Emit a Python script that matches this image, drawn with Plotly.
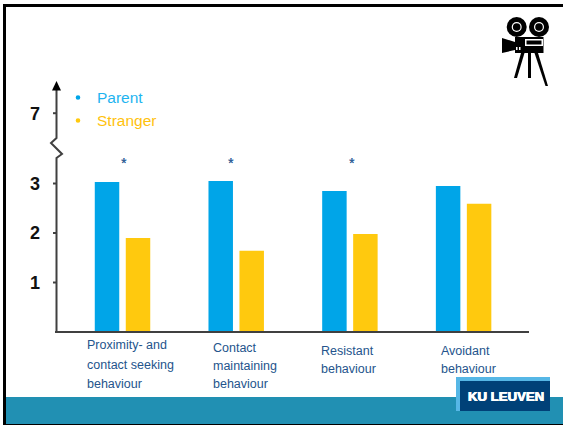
import plotly.graph_objects as go

categories = ["Proximity- and contact seeking behaviour", "Contact maintaining behaviour",
              "Resistant behaviour", "Avoidant behaviour"]
parent = [3.03, 3.05, 2.85, 2.95]
stranger = [1.90, 1.64, 1.98, 2.59]
tick_values = [1, 2, 3, 4.42]
tick_labels = ["1", "2", "3", "7"]

W, H = 563, 425
# plot rectangle in page pixels
L, R, T, B = 56, 530, 80, 332
UNIT = 49.5


def px(x):
    return x / W


def py(y):
    return 1 - y / H


BLUE, GOLD = "#00a5e8", "#ffc90e"
TEXT = "#24548c"
FONT = "Liberation Sans"

fig = go.Figure()
fig.add_bar(x=[0, 1, 2, 3], y=parent, name="Parent", marker=dict(color=BLUE, line_width=0))
fig.add_bar(x=[0, 1, 2, 3], y=stranger, name="Stranger", marker=dict(color=GOLD, line_width=0))

shapes = []


def add_line(x0, y0, x1, y1, color="#404040", width=2):
    shapes.append(dict(type="line", xref="paper", yref="paper", x0=px(x0), y0=py(y0), x1=px(x1), y1=py(y1),
                       line=dict(color=color, width=width)))


def add_rect(x0, y0, x1, y1, color):
    shapes.append(dict(type="rect", xref="paper", yref="paper", x0=px(x0), y0=py(y0), x1=px(x1), y1=py(y1),
                       fillcolor=color, line_width=0, layer="below"))


def add_poly(points, color="#000000", fill=True, width=0):
    path = "M " + " L ".join(f"{px(a):.5f},{py(b):.5f}" for a, b in points)
    if fill:
        path += " Z"
    shapes.append(dict(type="path", xref="paper", yref="paper", path=path,
                       fillcolor=color if fill else "rgba(0,0,0,0)",
                       line=dict(color=color, width=width)))


def add_circle(cx, cy, r, color):
    shapes.append(dict(type="circle", xref="paper", yref="paper", x0=px(cx - r), x1=px(cx + r),
                       y0=py(cy + r), y1=py(cy - r), fillcolor=color, line_width=0))


# slide frame and footer band
add_rect(0, 0, W, H, "#ffffff")
add_rect(3, 4, W, 7, "#000000")
add_rect(3, 4, 6, H, "#000000")
add_rect(6, 397, W, 424, "#2190b3")
add_rect(3, 424, W, H, "#000000")

# broken value axis with arrow head
add_poly([(56.5, 332), (56.5, 158), (62, 154), (51, 143), (56.5, 138), (56.5, 88)], "#404040", fill=False, width=2)
add_poly([(52, 90.5), (61, 90.5), (56.5, 81)], "#000000")
add_line(55, 332, 529, 332)
for v in tick_values:
    add_line(53, B - v * UNIT, 56, B - v * UNIT)

# series key bullets
add_circle(78, 97.5, 2.3, BLUE)
add_circle(78, 120.5, 2.3, GOLD)

# logo block
add_rect(456, 377, 550, 411, "#56b7e6")
add_rect(460, 381, 550, 411, "#004178")

# film camera
add_circle(516.7, 27, 10, "#000000")
add_circle(539, 27, 10, "#000000")
add_circle(516.7, 27, 5, "#ffffff")
add_circle(539, 27, 5, "#ffffff")
add_circle(516.7, 27, 3.8, "#000000")
add_circle(539, 27, 3.8, "#000000")
add_poly([(515, 37), (543.5, 37), (543.5, 53), (515, 53)])
add_poly([(502, 38), (515, 42), (515, 50), (502, 53)])
add_poly([(525, 39), (543, 39), (543, 46), (525, 46)], "#ffffff")
add_poly([(526.5, 40.5), (541.5, 40.5), (541.5, 44.5), (526.5, 44.5)], "#000000")
add_poly([(516, 47), (517.5, 47), (517.5, 50), (516, 50)], "#ffffff")
add_poly([(519, 47), (520.5, 47), (520.5, 50), (519, 50)], "#ffffff")
add_poly([(521, 53), (524.5, 53), (517, 78), (514, 78)])
add_poly([(528, 53), (531, 53), (531, 78), (528, 78)])
add_poly([(534.5, 53), (538, 53), (548, 86), (545.5, 86)])

ann = []


def add_text(x, y, text, size, color=TEXT, bold=False, anchor="left", family=FONT, shadow=None):
    font = dict(family=family, size=size, color=color)
    if shadow:
        font["shadow"] = shadow
    ann.append(dict(xref="paper", yref="paper", x=px(x), y=py(y), text=f"<b>{text}</b>" if bold else text,
                    showarrow=False, xanchor=anchor, yanchor="middle", font=font))


# series key labels
add_text(94.5, 97.5, fig.data[0].name, 15.5, "#1eb4f0")
add_text(94.5, 120.5, fig.data[1].name, 15.5, "#ffc20e")

# significance markers
for sx in (124, 231, 352):
    add_text(sx, 163, "*", 14, "#2f5f96", anchor="center", shadow="0.3px 0 0 #2f5f96")

# category captions, broken over lines by hand
caption_rows = [
    (85, [(345, "Proximity- and"), (365, "contact seeking"), (384, "behaviour")]),
    (211, [(348, "Contact"), (366, "maintaining"), (384, "behaviour")]),
    (319, [(351, "Resistant"), (369, "behaviour")]),
    (439, [(351, "Avoidant"), (369, "behaviour")]),
]
for cx, rows in caption_rows:
    for ry, line in rows:
        add_text(cx, ry, line, 12.5)

add_text(505.5, 396, "KU LEUVEN", 13.2, "#ffffff", bold=True, anchor="center",
         shadow="0.4px 0 0 #ffffff, -0.4px 0 0 #ffffff")

fig.update_layout(
    width=W, height=H, margin=dict(l=0, r=0, t=0, b=0),
    paper_bgcolor="#ffffff", plot_bgcolor="rgba(0,0,0,0)",
    showlegend=False, barmode="group", bargap=0.455, bargroupgap=0.21,
    shapes=shapes, annotations=ann,
    xaxis=dict(domain=[px(L), px(R)], range=[-0.585, 3.584], showticklabels=False, showgrid=False,
               zeroline=False, showline=False, ticks="", tickvals=[0, 1, 2, 3], ticktext=categories),
    yaxis=dict(domain=[py(B), py(T)], range=[0, (B - T) / UNIT], showgrid=False, zeroline=False, showline=False,
               tickmode="array", tickvals=tick_values, ticktext=[f"<b>{t}</b>" for t in tick_labels],
               ticks="", ticklabelstandoff=15, tickfont=dict(family=FONT, size=18, color="#111111")),
)
fig.write_html("out.html")
